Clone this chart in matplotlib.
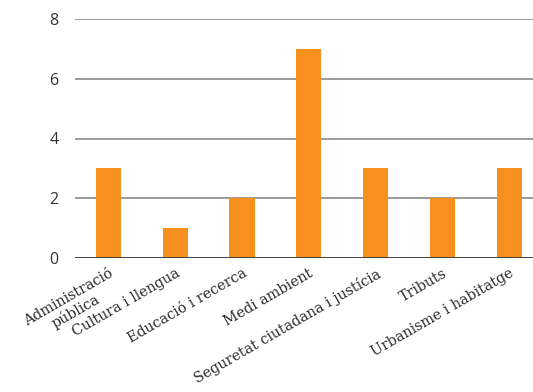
import matplotlib.pyplot as plt

categories = ["Administració\npública", "Cultura i llengua", "Educació i recerca",
              "Medi ambient", "Seguretat ciutadana i justícia", "Tributs",
              "Urbanisme i habitatge"]
values = [3, 1, 2, 7, 3, 2, 3]
yticks = [0, 2, 4, 6, 8]

fig = plt.figure(figsize=(5.33, 3.92), dpi=100)
ax = fig.add_axes([75 / 533, 1 - 258 / 392, (533 - 75) / 533, (258 - 19) / 392])

x = range(len(categories))
ax.bar(x, values, width=0.375, color="#F7901E", zorder=3)

ax.set_ylim(0, 8)
ax.set_xlim(-0.5, 6.356)
ax.set_yticks(yticks)
ax.yaxis.grid(True, color="#8a8a8a", linewidth=1.2, zorder=0)
ax.axhline(0, color="#444444", linewidth=1.4, zorder=4)

for s in ax.spines.values():
    s.set_visible(False)
ax.tick_params(axis="both", length=0)
ax.tick_params(axis="y", pad=12, labelsize=11.5, labelcolor="#333333")
for lab in ax.get_yticklabels():
    lab.set_family("Open Sans")

ax.set_xticks(list(x))
ax.set_xticklabels(categories, rotation=30, ha="right", rotation_mode="anchor",
                   family="DejaVu Serif", fontsize=10.3, color="#2a2a2a",
                   multialignment="center", linespacing=1.1)
ax.tick_params(axis="x", pad=6)

fig.savefig("out.png", dpi=100)
